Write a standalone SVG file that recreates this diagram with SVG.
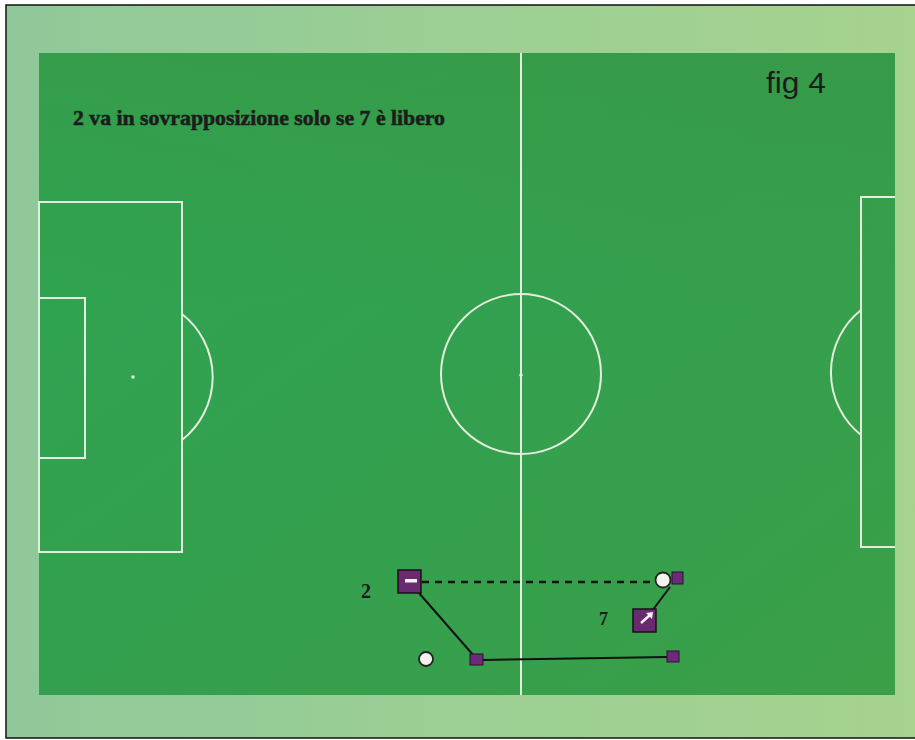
<svg xmlns="http://www.w3.org/2000/svg" width="915" height="740" viewBox="0 0 915 740">
<defs>
<linearGradient id="bg" x1="0" y1="0" x2="1" y2="0">
<stop offset="0" stop-color="#8fc899"/>
<stop offset="0.5" stop-color="#9ccf94"/>
<stop offset="1" stop-color="#a6d38e"/>
</linearGradient>
<linearGradient id="pitch" x1="0" y1="0" x2="1" y2="1">
<stop offset="0" stop-color="#2ea553"/>
<stop offset="0.5" stop-color="#33a04f"/>
<stop offset="1" stop-color="#3b9f47"/>
</linearGradient>
<linearGradient id="pitchTop" x1="0" y1="0" x2="0" y2="1">
<stop offset="0" stop-color="#3f8f3a" stop-opacity="0.35"/>
<stop offset="0.4" stop-color="#3f8f3a" stop-opacity="0"/>
</linearGradient>
<style>
.line{fill:none;stroke:#e4eedc;stroke-width:2}
.conn{fill:none;stroke:#111;stroke-width:2}
.dash{fill:none;stroke:#111;stroke-width:2.5;stroke-dasharray:7 6}
.player{fill:#6a2a70;stroke:#1a0f1a;stroke-width:1.5}
.mark{fill:#6b2b78;stroke:#2a1030;stroke-width:1}
.ball{fill:#f2f2ee;stroke:#222;stroke-width:1.8}
.num{font-family:"Liberation Serif",serif;font-weight:bold;fill:#1a1a1a}
</style>
</defs>
<rect x="0" y="0" width="915" height="740" fill="#ffffff"/>
<rect x="6" y="5" width="915" height="733" fill="url(#bg)" stroke="#111" stroke-width="1.5"/>
<g id="pitch-area">
<rect x="39" y="53" width="856" height="642" fill="url(#pitch)"/>
<rect x="39" y="53" width="856" height="642" fill="url(#pitchTop)"/>
<line class="line" x1="521" y1="53" x2="521" y2="695"/>
<circle class="line" cx="521" cy="374" r="80"/>
<circle cx="521" cy="375" r="1.8" fill="#e4eedc"/>
<rect class="line" x="39" y="202" width="143" height="350"/>
<rect class="line" x="39" y="298" width="46" height="160"/>
<circle cx="133" cy="377" r="1.8" fill="#e4eedc"/>
<path class="line" d="M182 314 A80 80 0 0 1 182 440"/>
<path class="line" d="M895 197 H861 V547 H895"/>
<path class="line" d="M861 310 A80 80 0 0 0 861 435"/>
</g>
<text x="73" y="125" font-family="'Liberation Serif',serif" font-weight="bold" font-size="20" fill="#1c1c1c" stroke="#1c1c1c" stroke-width="0.5" textLength="372" lengthAdjust="spacingAndGlyphs">2 va in sovrapposizione solo se 7 è libero</text>
<text x="766" y="93" font-family="'Liberation Sans',sans-serif" font-size="29" fill="#1c1c1c" textLength="60" lengthAdjust="spacingAndGlyphs">fig 4</text>
<g id="connectors">
<line class="dash" x1="422" y1="582" x2="657" y2="582"/>
<line class="conn" x1="419" y1="593" x2="474" y2="656"/>
<line class="conn" x1="483" y1="660" x2="668" y2="657"/>
<line class="conn" x1="670" y1="587" x2="652" y2="611"/>
</g>
<g id="player-2">
<rect class="player" x="398" y="570" width="23" height="23"/>
<rect x="405" y="579" width="12" height="3.5" fill="#f4f0f4"/>
<text class="num" x="361" y="598" font-size="20">2</text>
</g>
<g id="player-7">
<rect class="player" x="633" y="609" width="23" height="23"/>
<line x1="641" y1="623" x2="650" y2="615" stroke="#f4f0f4" stroke-width="2.5"/>
<path d="M646 613 L653 612 L652 619 Z" fill="#f4f0f4"/>
<text class="num" x="599" y="625" font-size="18">7</text>
</g>
<g id="ball-upper">
<circle class="ball" cx="663" cy="580" r="7.5"/>
</g>
<g id="mark-upper">
<rect class="mark" x="672" y="572" width="11" height="12"/>
</g>
<g id="mark-lower-left">
<rect class="mark" x="470" y="654" width="13" height="11"/>
</g>
<g id="mark-lower-right">
<rect class="mark" x="667" y="651" width="12" height="11"/>
</g>
<g id="ball-lower">
<circle class="ball" cx="426" cy="659" r="7"/>
</g>
</svg>
